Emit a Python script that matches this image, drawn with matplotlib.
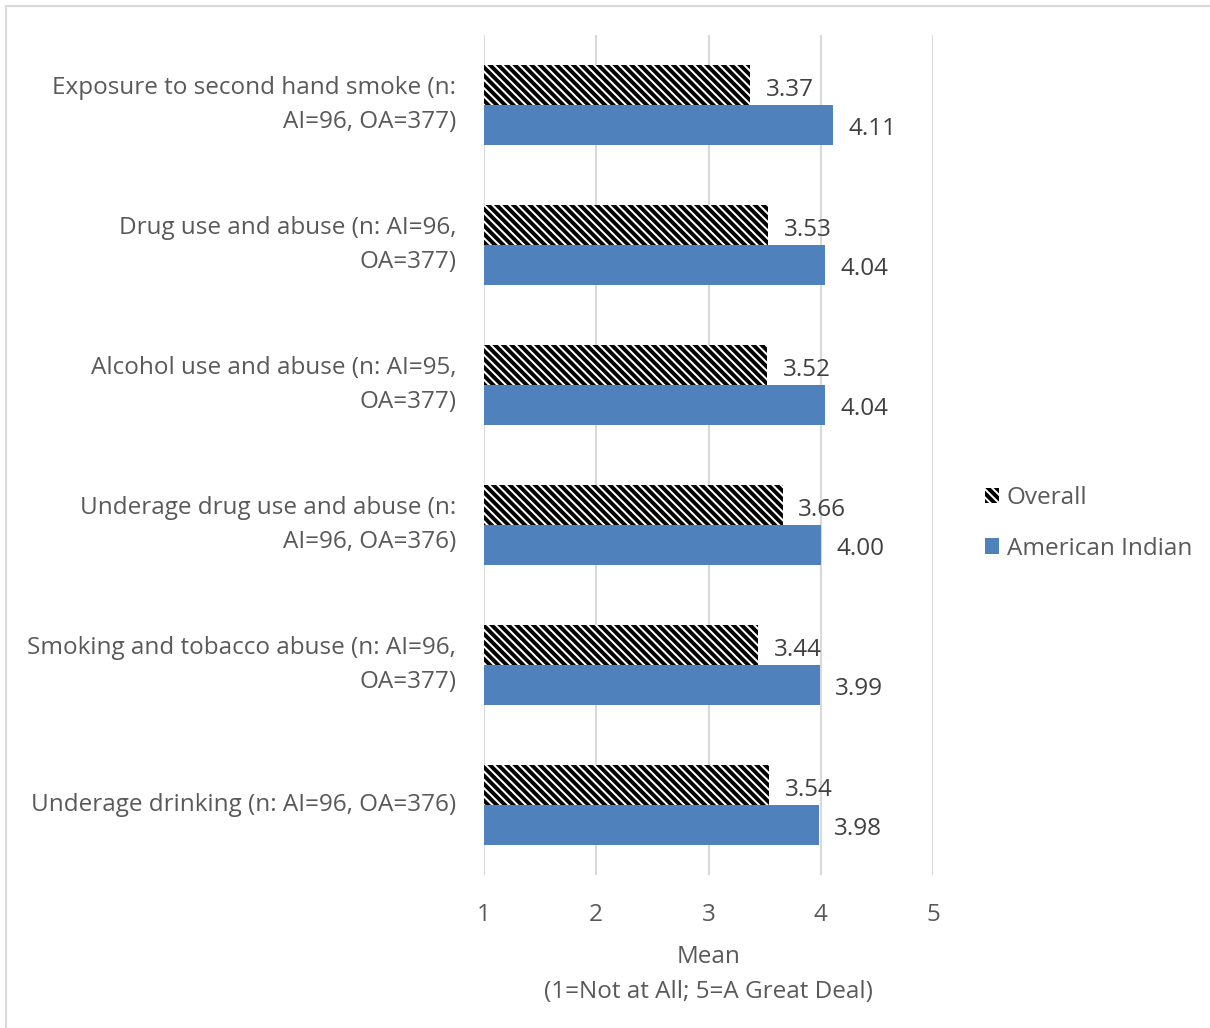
import numpy as np
import matplotlib.pyplot as plt
from matplotlib.patches import Rectangle

plt.rcParams['font.family'] = ['Open Sans', 'DejaVu Sans']
plt.rcParams['hatch.linewidth'] = 2.8

categories = [
    "Exposure to second hand smoke (n:\nAI=96, OA=377)",
    "Drug use and abuse (n: AI=96,\nOA=377)",
    "Alcohol use and abuse (n: AI=95,\nOA=377)",
    "Underage drug use and abuse (n:\nAI=96, OA=376)",
    "Smoking and tobacco abuse (n: AI=96,\nOA=377)",
    "Underage drinking (n: AI=96, OA=376)",
]
overall = [3.37, 3.53, 3.52, 3.66, 3.44, 3.54]
american_indian = [4.11, 4.04, 4.04, 4.00, 3.99, 3.98]

BLUE = "#4f81bd"
TXT = "#595959"
FS = 17.5

fig = plt.figure(figsize=(12.1, 10.28), dpi=100)
ax = fig.add_axes([484 / 1210, 1 - 875 / 1028, (933 - 484) / 1210, (875 - 35) / 1028])

y = np.arange(len(categories))
h = 40 / 140
ax.barh(y - h / 2, [v - 1 for v in overall], left=1, height=h, color="white",
        edgecolor="black", hatch="\\\\\\\\", linewidth=0, label="Overall")
ax.barh(y + h / 2, [v - 1 for v in american_indian], left=1, height=h,
        color=BLUE, linewidth=0, label="American Indian")

for i in range(len(categories)):
    ax.text(overall[i] + 0.14, y[i] - h / 2 + 0.035, f"{overall[i]:.2f}", va="center",
            ha="left", fontsize=FS, color="#404040")
    ax.text(american_indian[i] + 0.14, y[i] + h / 2 + 0.03, f"{american_indian[i]:.2f}",
            va="center", ha="left", fontsize=FS, color="#404040")

ax.set_xlim(1, 5)
ax.set_ylim(len(categories) - 0.5, -0.5)
ax.set_xticks([1, 2, 3, 4, 5])
ax.set_yticks(y)
ax.set_yticklabels(categories, fontsize=FS, color=TXT, ha="right", va="center",
                   linespacing=1.5)
ax.tick_params(axis="x", labelsize=FS, colors=TXT, length=0, pad=20)
ax.tick_params(axis="y", length=0, pad=20)
ax.grid(axis="x", color="#d9d9d9", lw=1.5)
ax.set_axisbelow(True)
for s in ax.spines.values():
    s.set_visible(False)
ax.set_xlabel("Mean\n(1=Not at All; 5=A Great Deal)", fontsize=FS, color=TXT,
              labelpad=13, linespacing=1.6)

leg = fig.legend(loc="upper left", bbox_to_anchor=(963 / 1210, 1 - 464 / 1028),
                 frameon=False, fontsize=FS, labelcolor=TXT, handlelength=0.6,
                 handleheight=0.6, handletextpad=0.3, labelspacing=1.1)

fig.patches.append(Rectangle((6 / 1210, -0.05), 1.1, 1.05 - 6 / 1028,
                             transform=fig.transFigure, fill=False,
                             edgecolor="#d9d9d9", lw=1.5))

fig.savefig("out.png", dpi=100)
